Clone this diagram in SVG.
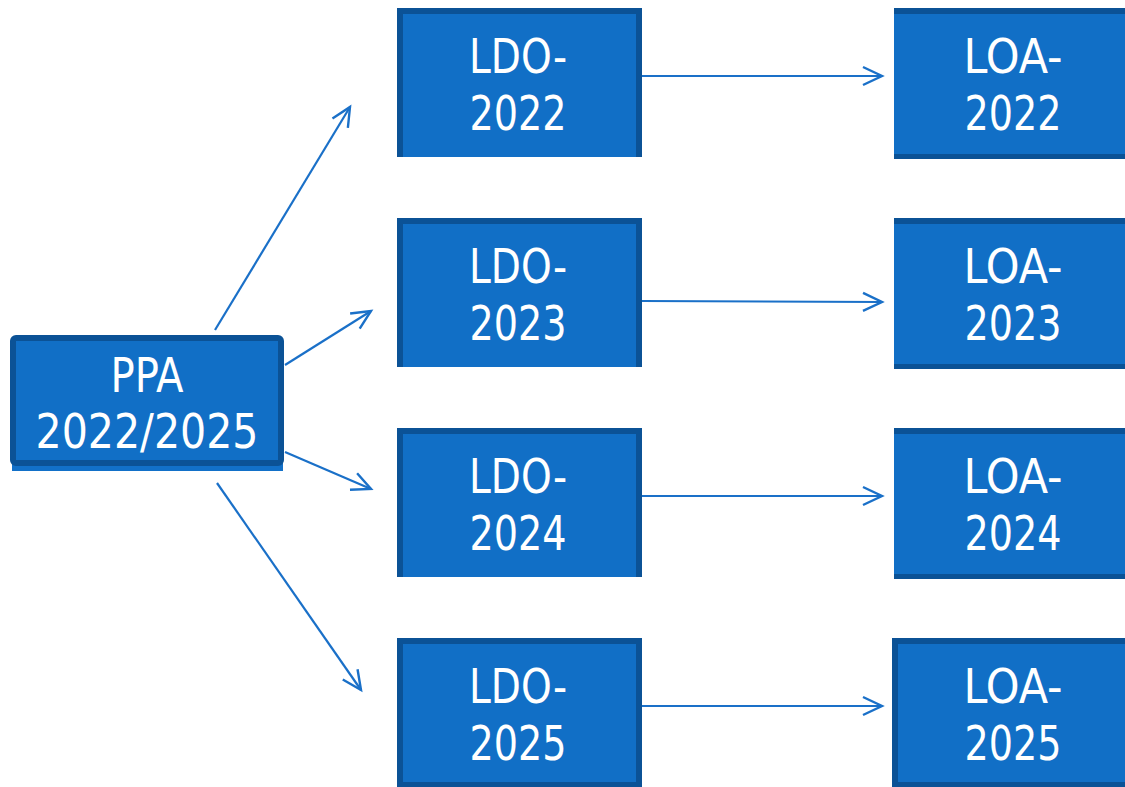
<svg xmlns="http://www.w3.org/2000/svg" width="1125" height="787" viewBox="0 0 1125 787">
<style>
.box{fill:#116fc6}
.bd{fill:#0b5296}
.t{fill:#ffffff;font-family:"DejaVu Sans Condensed","DejaVu Sans",sans-serif;font-size:48px;text-anchor:middle}
.c{stroke:#1a70c8;stroke-width:2.2;fill:none}
</style>
<defs>
<marker id="ah" markerUnits="userSpaceOnUse" markerWidth="24" markerHeight="24" viewBox="-2 -12 24 24" refX="19" refY="0" orient="auto">
<path d="M0,-9 L19,0 L0,9" fill="none" stroke="#1a70c8" stroke-width="2.4"/>
</marker>
</defs>
<rect width="1125" height="787" fill="#ffffff"/>
<g id="connectors">
<line class="c" x1="215" y1="330" x2="350" y2="107" marker-end="url(#ah)"/>
<line class="c" x1="285" y1="365" x2="371" y2="311" marker-end="url(#ah)"/>
<line class="c" x1="285" y1="452" x2="371" y2="489" marker-end="url(#ah)"/>
<line class="c" x1="217" y1="483" x2="361" y2="690" marker-end="url(#ah)"/>
<line class="c" x1="642" y1="76" x2="882" y2="76" marker-end="url(#ah)"/>
<line class="c" x1="642" y1="301" x2="882" y2="302" marker-end="url(#ah)"/>
<line class="c" x1="642" y1="496" x2="882" y2="496" marker-end="url(#ah)"/>
<line class="c" x1="642" y1="706" x2="882" y2="706" marker-end="url(#ah)"/>
</g>
<g id="ppa">
<rect x="12" y="462" width="271" height="9" fill="#1270c8"/>
<rect x="13" y="338" width="268" height="125" rx="3" class="box" stroke="#0b5296" stroke-width="6"/>
<text class="t" x="147" y="392" textLength="73" lengthAdjust="spacingAndGlyphs">PPA</text>
<text class="t" x="147" y="448" textLength="223" lengthAdjust="spacingAndGlyphs">2022/2025</text>
</g>
<g id="ldo2022">
<rect class="box" x="397" y="8" width="245" height="149"/>
<rect class="bd" x="397" y="8" width="245" height="6"/>
<rect class="bd" x="397" y="8" width="6" height="149"/>
<rect class="bd" x="636" y="8" width="6" height="149"/>
<text class="t" x="518" y="73" textLength="98" lengthAdjust="spacingAndGlyphs">LDO-</text>
<text class="t" x="518" y="130" textLength="97" lengthAdjust="spacingAndGlyphs">2022</text>
</g>
<g id="ldo2023">
<rect class="box" x="397" y="218" width="245" height="149"/>
<rect class="bd" x="397" y="218" width="245" height="6"/>
<rect class="bd" x="397" y="218" width="6" height="149"/>
<rect class="bd" x="636" y="218" width="6" height="149"/>
<text class="t" x="518" y="283" textLength="98" lengthAdjust="spacingAndGlyphs">LDO-</text>
<text class="t" x="518" y="340" textLength="97" lengthAdjust="spacingAndGlyphs">2023</text>
</g>
<g id="ldo2024">
<rect class="box" x="397" y="428" width="245" height="149"/>
<rect class="bd" x="397" y="428" width="245" height="6"/>
<rect class="bd" x="397" y="428" width="6" height="149"/>
<rect class="bd" x="636" y="428" width="6" height="149"/>
<text class="t" x="518" y="493" textLength="98" lengthAdjust="spacingAndGlyphs">LDO-</text>
<text class="t" x="518" y="550" textLength="97" lengthAdjust="spacingAndGlyphs">2024</text>
</g>
<g id="ldo2025">
<rect class="box" x="397" y="638" width="245" height="149"/>
<rect class="bd" x="397" y="638" width="245" height="6"/>
<rect class="bd" x="397" y="638" width="6" height="149"/>
<rect class="bd" x="636" y="638" width="6" height="149"/>
<rect class="bd" x="397" y="782" width="245" height="5"/>
<text class="t" x="518" y="703" textLength="98" lengthAdjust="spacingAndGlyphs">LDO-</text>
<text class="t" x="518" y="760" textLength="97" lengthAdjust="spacingAndGlyphs">2025</text>
</g>
<g id="loa2022">
<rect class="box" x="894" y="8" width="231" height="151"/>
<rect class="bd" x="894" y="8" width="231" height="6"/>
<rect class="bd" x="894" y="154" width="231" height="5"/>
<text class="t" x="1013" y="73" textLength="99" lengthAdjust="spacingAndGlyphs">LOA-</text>
<text class="t" x="1013" y="130" textLength="97" lengthAdjust="spacingAndGlyphs">2022</text>
</g>
<g id="loa2023">
<rect class="box" x="894" y="218" width="231" height="151"/>
<rect class="bd" x="894" y="218" width="231" height="6"/>
<rect class="bd" x="894" y="364" width="231" height="5"/>
<text class="t" x="1013" y="283" textLength="99" lengthAdjust="spacingAndGlyphs">LOA-</text>
<text class="t" x="1013" y="340" textLength="97" lengthAdjust="spacingAndGlyphs">2023</text>
</g>
<g id="loa2024">
<rect class="box" x="894" y="428" width="231" height="151"/>
<rect class="bd" x="894" y="428" width="231" height="6"/>
<rect class="bd" x="894" y="574" width="231" height="5"/>
<text class="t" x="1013" y="493" textLength="99" lengthAdjust="spacingAndGlyphs">LOA-</text>
<text class="t" x="1013" y="550" textLength="97" lengthAdjust="spacingAndGlyphs">2024</text>
</g>
<g id="loa2025">
<rect class="box" x="892" y="638" width="233" height="149"/>
<rect class="bd" x="892" y="638" width="233" height="6"/>
<rect class="bd" x="892" y="638" width="6" height="149"/>
<rect class="bd" x="892" y="782" width="233" height="5"/>
<text class="t" x="1013" y="703" textLength="99" lengthAdjust="spacingAndGlyphs">LOA-</text>
<text class="t" x="1013" y="760" textLength="97" lengthAdjust="spacingAndGlyphs">2025</text>
</g>
</svg>
